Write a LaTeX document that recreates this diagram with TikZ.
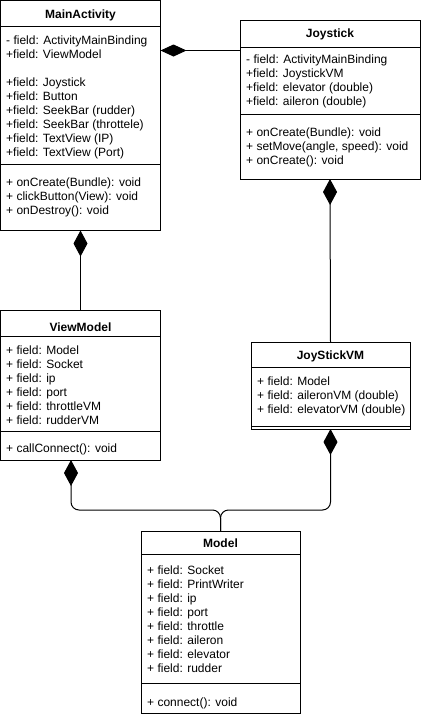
\documentclass[tikz,border=0pt]{standalone}
\usepackage{fontspec}
\setmainfont{Liberation Sans}
\usetikzlibrary{arrows.meta}
\begin{document}
\begin{tikzpicture}[x=1pt,y=-1pt,
  classbox/.style={draw, line width=1pt, rectangle, inner sep=0pt, outer sep=0pt, anchor=north west},
  classtitle/.style={font=\fontsize{12}{14}\selectfont\bfseries, anchor=base, inner sep=0pt},
  member/.style={font=\fontsize{12}{14}\selectfont, anchor=base west, inner sep=0pt},
  sepline/.style={line width=1pt},
  comp/.style={line width=1pt, {Diamond[length=26pt,width=14pt]}-},
  compw/.style={line width=1pt, {Diamond[length=26pt,width=12pt]}-}
]
\useasboundingbox (0,0) rectangle (421,718);

% ---------- MainActivity ----------
\node[classbox, minimum width=160pt, minimum height=230pt] (main) at (0.5,0.5) {};
\node[classtitle] (main-t) at (main.north |- 0,18) {MainActivity};
\draw[sepline] (main.west |- 0,26) -- (main.east |- 0,26);
\draw[sepline] (main.west |- 0,164) -- (main.east |- 0,164);
\foreach \t [count=\i from 0] in {- field: ActivityMainBinding, +field: ViewModel}
  \node[member] (main-a\i) at (6,44+14*\i) {\t};
\foreach \t [count=\i from 0] in {+field: Joystick, +field: Button, +field: SeekBar (rudder),
    +field: SeekBar (throttele), +field: TextView (IP), +field: TextView (Port)}
  \node[member] (main-b\i) at (6,86+14*\i) {\t};
\foreach \t [count=\i from 0] in {+ onCreate(Bundle): void, + clickButton(View): void, + onDestroy(): void}
  \node[member] (main-m\i) at (6,186+14*\i) {\t};

% ---------- Joystick ----------
\node[classbox, minimum width=180pt, minimum height=159pt] (joy) at (240,20) {};
\node[classtitle] (joy-t) at (joy.north |- 0,37) {Joystick};
\draw[sepline] (joy.west |- 0,47) -- (joy.east |- 0,47);
\draw[sepline] (joy.west |- 0,114) -- (joy.east |- 0,114);
\foreach \t [count=\i from 0] in {- field: ActivityMainBinding, +field: JoystickVM,
    +field: elevator (double), +field: aileron (double)}
  \node[member] (joy-a\i) at (246,63+14*\i) {\t};
\foreach \t [count=\i from 0] in {+ onCreate(Bundle): void, {+ setMove(angle, speed): void}, + onCreate(): void}
  \node[member] (joy-m\i) at (246,136+14*\i) {\t};

% ---------- ViewModel ----------
\node[classbox, minimum width=160pt, minimum height=150pt] (vm) at (0.5,310) {};
\node[classtitle] (vm-t) at (vm.north |- 0,331) {ViewModel};
\draw[sepline] (vm.west |- 0,336) -- (vm.east |- 0,336);
\draw[sepline] (vm.west |- 0,431) -- (vm.east |- 0,431);
\foreach \t [count=\i from 0] in {+ field: Model, + field: Socket, + field: ip, + field: port,
    + field: throttleVM, + field: rudderVM}
  \node[member] (vm-a\i) at (6,354+14*\i) {\t};
\node[member] (vm-m0) at (6,452) {+ callConnect(): void};

% ---------- JoyStickVM ----------
\node[classbox, minimum width=159pt, minimum height=87pt] (jvm) at (251,342) {};
\node[classtitle] (jvm-t) at (jvm.north |- 0,359) {JoyStickVM};
\draw[sepline] (jvm.west |- 0,367) -- (jvm.east |- 0,367);
\draw[sepline] (jvm.west |- 0,426) -- (jvm.east |- 0,426);
\foreach \t [count=\i from 0] in {+ field: Model, + field: aileronVM (double), + field: elevatorVM (double)}
  \node[member] (jvm-a\i) at (257,385+14*\i) {\t};

% ---------- Model ----------
\node[classbox, minimum width=159pt, minimum height=182pt] (model) at (141,531) {};
\node[classtitle] (model-t) at (model.north |- 0,547) {Model};
\draw[sepline] (model.west |- 0,554) -- (model.east |- 0,554);
\draw[sepline] (model.west |- 0,683) -- (model.east |- 0,683);
\foreach \t [count=\i from 0] in {+ field: Socket, + field: PrintWriter, + field: ip, + field: port,
    + field: throttle, + field: aileron, + field: elevator, + field: rudder}
  \node[member] (model-a\i) at (147,574+14*\i) {\t};
\node[member] (model-m0) at (147,706) {+ connect(): void};

% ---------- compositions ----------
\draw[compw] ([yshift=-50pt]main.north east) -- ([yshift=-30.5pt]joy.north west);
\draw[comp] (main.south) -- (vm.north);
\draw[comp] (joy.south) -- (jvm.north);
\coordinate (join) at (model.north |- 0,510);
\draw[comp, rounded corners=8pt] ([xshift=-9.5pt]vm.south) |- (join) -- (model.north);
\draw[comp, rounded corners=8pt] (jvm.south) |- (join) -- (model.north);
\end{tikzpicture}
\end{document}
